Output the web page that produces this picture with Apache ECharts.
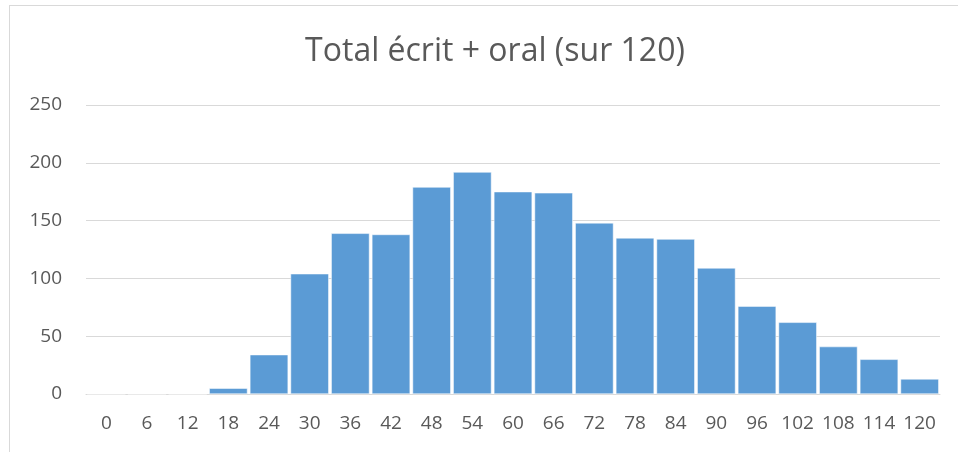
<!DOCTYPE html>
<html>
<head>
<meta charset="utf-8">
<script src="https://cdn.jsdelivr.net/npm/echarts@6/dist/echarts.min.js"></script>
<style>
html, body { margin: 0; padding: 0; background: #fff; }
#frame { position: absolute; left: 9px; top: 5px; width: 960px; height: 460px; border: 1px solid #d9d9d9; }
#chart { position: absolute; left: 0; top: 0; width: 958px; height: 452px; }
</style>
</head>
<body>
<div id="frame"></div>
<div id="chart"></div>
<script>
const categories = ['0', '6', '12', '18', '24', '30', '36', '42', '48', '54', '60', '66', '72', '78', '84', '90', '96', '102', '108', '114', '120'];
const counts = [0, 0, 0, 5, 34, 104, 139, 138, 179, 192, 175, 174, 148, 135, 134, 109, 76, 62, 41, 30, 13];

const chart = echarts.init(document.getElementById('chart'));
chart.setOption({
    animation: false,
    title: {
        text: 'Total écrit + oral (sur 120)',
        left: 490,
        textAlign: 'center',
        top: 31,
        textStyle: { fontFamily: 'Open Sans', fontSize: 32, fontWeight: 'normal', color: '#595959' }
    },
    grid: { left: 86, right: 18, top: 105, bottom: 58 },
    xAxis: {
        type: 'category',
        data: categories,
        axisLine: { lineStyle: { color: '#d9d9d9', width: 1 } },
        axisTick: { show: false },
        axisLabel: { color: '#595959', fontSize: 19, fontFamily: 'Open Sans', margin: 20, interval: 0 }
    },
    yAxis: {
        type: 'value',
        min: 0,
        max: 250,
        interval: 50,
        axisLine: { show: false },
        axisTick: { show: false },
        splitLine: { lineStyle: { color: '#d9d9d9', width: 1 } },
        axisLabel: { color: '#595959', fontSize: 19, fontFamily: 'Open Sans', margin: 24 }
    },
    series: [{
        type: 'bar',
        data: counts,
        barCategoryGap: '6%',
        itemStyle: { color: '#5b9bd5', borderColor: '#ffffff', borderWidth: 0.5 }
    }]
});
</script>
</body>
</html>
